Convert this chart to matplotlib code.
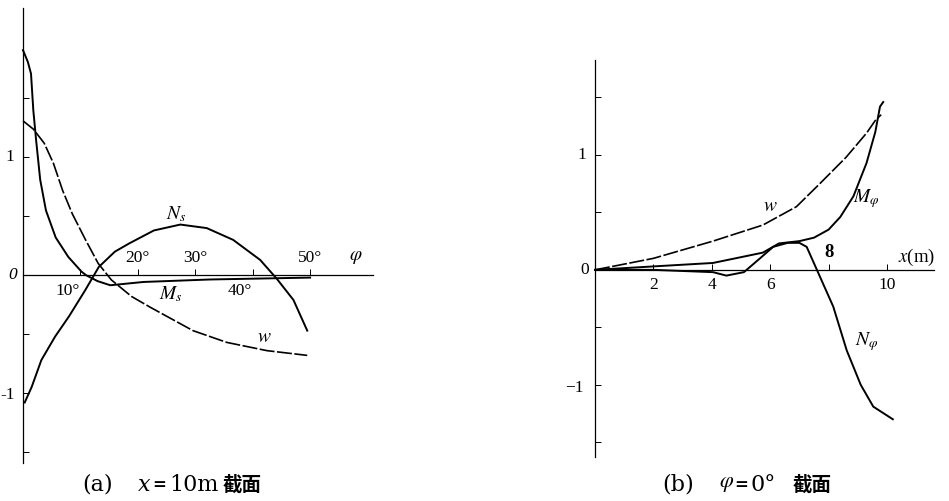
import matplotlib.pyplot as plt

plt.rcParams['font.family'] = ['Liberation Serif', 'Noto Sans CJK SC']
plt.rcParams['mathtext.fontset'] = 'stix'

# (a) x = 10m section, values against phi (deg)
ms_deg = [0, 0.85, 1.4, 1.8, 2.3, 3.0, 4.0, 5.7, 7.9, 10.2, 11.0, 13.0, 15.2, 21.0, 32.6, 50.0]
ms_val = [1.91, 1.81, 1.71, 1.40, 1.14, 0.81, 0.55, 0.32, 0.155, 0.03, 0.0, -0.05, -0.085, -0.057, -0.036, -0.02]

w_deg = [0, 1.8, 3.7, 5.3, 6.9, 8.6, 10.9, 13.1, 15.4, 18.9, 22.1, 29.6, 35.5, 42.5, 49.5]
w_val = [1.31, 1.24, 1.12, 0.95, 0.72, 0.52, 0.30, 0.10, -0.04, -0.18, -0.27, -0.47, -0.57, -0.64, -0.68]

ns_deg = [0.3, 1.5, 3.2, 5.6, 8.0, 10.8, 13.2, 16.0, 18.5, 22.8, 27.4, 32.0, 36.6, 41.3, 44.2, 47.1, 49.5]
ns_val = [-1.08, -0.95, -0.72, -0.52, -0.35, -0.13, 0.07, 0.20, 0.27, 0.38, 0.43, 0.40, 0.30, 0.13, -0.03, -0.21, -0.47]

# (b) phi = 0 section, values against x (m)
wb_x = [0, 2.0, 4.04, 5.75, 6.9, 7.7, 8.6, 9.3, 9.6, 9.8]
wb_y = [0, 0.10, 0.25, 0.39, 0.55, 0.75, 0.98, 1.19, 1.30, 1.35]

mp_x = [0, 2.0, 4.04, 5.75, 6.3, 7.0, 7.5, 8.0, 8.4, 8.85, 9.3, 9.6, 9.76, 9.87]
mp_y = [0, 0.03, 0.06, 0.15, 0.23, 0.25, 0.28, 0.35, 0.46, 0.64, 0.93, 1.2, 1.42, 1.46]

np_x = [0, 2.0, 4.04, 4.5, 5.1, 5.65, 6.1, 6.6, 7.0, 7.25, 7.6, 8.16, 8.62, 9.1, 9.53, 10.2]
np_y = [0, 0, -0.02, -0.05, -0.02, 0.10, 0.20, 0.235, 0.235, 0.20, 0.0, -0.32, -0.70, -1.0, -1.19, -1.30]

deg_ticks = [10, 20, 30, 40, 50]
deg_labels = ['10°', '20°', '30°', '40°', '50°']
x_ticks = [2, 4, 6, 8, 10]
x_labels = ['2', '4', '6', '8', '10']
y_ticks = [-1.5, -1, -0.5, 0.5, 1, 1.5]

fig = plt.figure(figsize=(9.49, 5.01), dpi=100)
ax1 = fig.add_axes([0.0, 0.0507, 0.3994, 0.941])
ax2 = fig.add_axes([0.5962, 0.0599, 0.4, 0.8488])

ax1.set_xlim(-4, 62)
ax1.set_ylim(-1.7, 2.3)
ax2.set_xlim(-1, 12)
ax2.set_ylim(-1.75, 1.95)


def setup(ax, xmax, ymin, ymax, xt, yt):
    for s in ['top', 'right']:
        ax.spines[s].set_visible(False)
    ax.spines['left'].set_position(('data', 0))
    ax.spines['bottom'].set_position(('data', 0))
    ax.spines['left'].set_bounds(ymin, ymax)
    ax.spines['bottom'].set_bounds(0, xmax)
    ax.spines['left'].set_linewidth(0.9)
    ax.spines['bottom'].set_linewidth(0.9)
    ax.set_xticks(xt)
    ax.set_yticks(yt)
    ax.set_xticklabels([])
    ax.set_yticklabels([])
    ax.tick_params(direction='in', length=4, width=0.7)
    ax.patch.set_alpha(0)


setup(ax1, 61, -1.59, 2.27, deg_ticks, y_ticks)
setup(ax2, 11.6, -1.63, 1.83, x_ticks, y_ticks)

lw = 1.4
ax1.plot(ms_deg, ms_val, color='black', lw=lw)
ax1.plot(w_deg, w_val, color='black', lw=1.2, dashes=(9, 1.5))
ax1.plot(ns_deg, ns_val, color='black', lw=lw)

ax2.plot(wb_x, wb_y, color='black', lw=1.2, dashes=(9, 1.5))
ax2.plot(mp_x, mp_y, color='black', lw=lw)
ax2.plot(np_x, np_y, color='black', lw=lw)

fs = 12.5
# panel (a) labels
ax1.text(-2.3, 1, '1', fontsize=fs, ha='center', va='center')
ax1.text(-1.8, 0, '0', fontsize=fs, ha='center', va='center', style='italic')
ax1.text(-2.6, -1.02, '-1', fontsize=fs, ha='center', va='center')
for d, lab in zip(deg_ticks, deg_labels):
    if d in (10, 40):
        ax1.text(d - 2.3, -0.13, lab, fontsize=fs, ha='center', va='center')
    else:
        ax1.text(d, 0.15, lab, fontsize=fs, ha='center', va='center')
ax1.text(58, 0.15, r'$\varphi$', fontsize=14, ha='center', va='center')
ax1.text(26.7, 0.52, r'$N_s$', fontsize=14, ha='center', va='center')
ax1.text(25.8, -0.16, r'$M_s$', fontsize=14, ha='center', va='center')
ax1.text(42, -0.53, r'$w$', fontsize=14, ha='center', va='center')

# panel (b) labels
ax2.text(-0.34, 0, '0', fontsize=fs, ha='center', va='center')
ax2.text(-0.45, 1, '1', fontsize=fs, ha='center', va='center')
ax2.text(-0.7, -1.03, '−1', fontsize=fs, ha='center', va='center')
for xv, lab in zip(x_ticks, x_labels):
    if xv == 8:
        ax2.text(xv, 0.15, lab, fontsize=fs + 1, ha='center', va='center', weight='bold')
    else:
        ax2.text(xv, -0.13, lab, fontsize=fs, ha='center', va='center')
ax2.text(11.0, 0.11, r'$x$(m)', fontsize=fs + 1, ha='center', va='center')
ax2.text(6.0, 0.55, r'$w$', fontsize=14, ha='center', va='center')
ax2.text(9.3, 0.62, r'$M_\varphi$', fontsize=14, ha='center', va='center')
ax2.text(9.3, -0.62, r'$N_\varphi$', fontsize=14, ha='center', va='center')

# captions, placed piece by piece so the CJK glyphs fall back correctly
cy = 0.032
cfs = 16
serif = ['DejaVu Serif']
fig.text(82 / 949, cy, '(a)', fontsize=cfs, ha='left', va='center', family=serif)
fig.text(138 / 949, cy, 'x', fontsize=cfs, ha='left', va='center', style='italic', family=serif)
fig.text(152 / 949, cy, '=', fontsize=12, ha='left', va='center', weight='bold', family=serif)
fig.text(169 / 949, cy, '10m', fontsize=cfs, ha='left', va='center', family=serif)
fig.text(223 / 949, cy, '截面', fontsize=14, ha='left', va='center',
         family=['Noto Sans CJK SC'], weight='bold')

fig.text(662 / 949, cy, '(b)', fontsize=cfs, ha='left', va='center', family=serif)
fig.text(719 / 949, cy, r'$\varphi$', fontsize=cfs, ha='left', va='center')
fig.text(734 / 949, cy, '=', fontsize=12, ha='left', va='center', weight='bold', family=serif)
fig.text(751 / 949, cy, '0°', fontsize=cfs, ha='left', va='center', family=serif)
fig.text(793 / 949, cy, '截面', fontsize=14, ha='left', va='center',
         family=['Noto Sans CJK SC'], weight='bold')

fig.savefig('out.png', dpi=100)
